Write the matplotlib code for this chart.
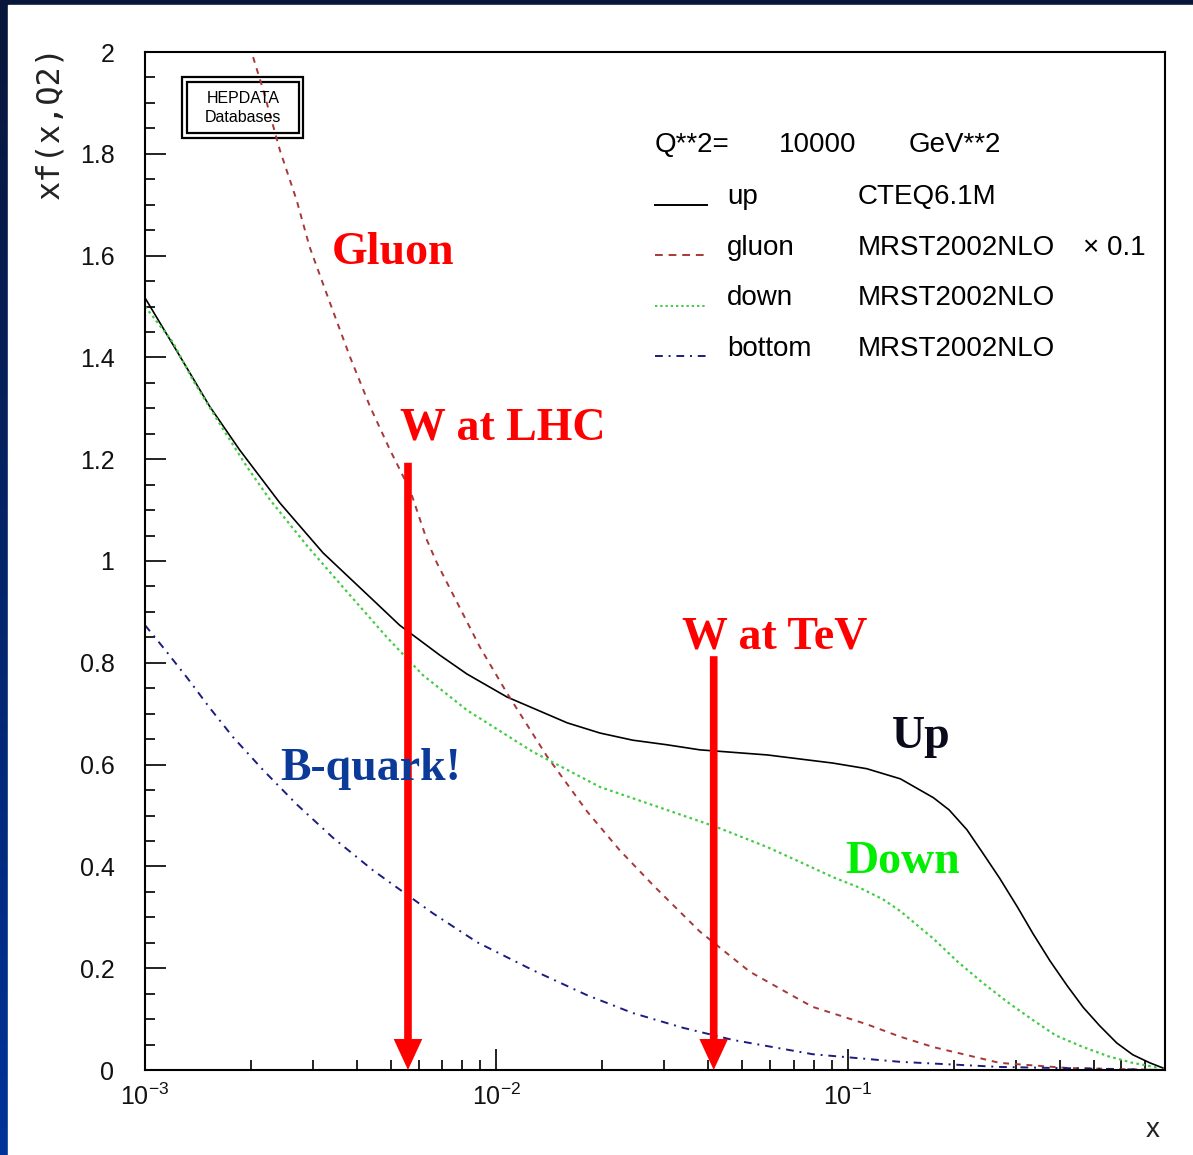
import matplotlib.pyplot as plt
import numpy as np
from matplotlib.patches import Rectangle
from matplotlib.colors import LinearSegmentedColormap
from matplotlib.ticker import LogLocator, MultipleLocator, FixedFormatter, FixedLocator

plt.rcParams['font.family'] = ['Liberation Sans', 'DejaVu Sans']
plt.rcParams['mathtext.fontset'] = 'custom'
plt.rcParams['mathtext.rm'] = 'Liberation Sans'
plt.rcParams['mathtext.it'] = 'Liberation Sans:italic'
plt.rcParams['mathtext.bf'] = 'Liberation Sans:bold'

# PDFs at Q^2 = 10000 GeV^2
up_x = [0.001, 0.00126, 0.00153, 0.00186, 0.00242, 0.00321, 0.00446, 0.0053, 0.0069,
        0.00824, 0.0107, 0.0159, 0.0197, 0.0244, 0.0305, 0.0379, 0.0589, 0.0906, 0.113,
        0.141, 0.175, 0.194, 0.218, 0.242, 0.270, 0.303, 0.336, 0.376, 0.420, 0.467,
        0.52, 0.582, 0.646, 0.723, 0.787]
up_y = [1.517, 1.401, 1.303, 1.218, 1.114, 1.016, 0.923, 0.874, 0.815,
        0.778, 0.733, 0.682, 0.662, 0.648, 0.639, 0.629, 0.619, 0.603, 0.592,
        0.572, 0.535, 0.511, 0.472, 0.426, 0.377, 0.321, 0.268, 0.214, 0.166, 0.123,
        0.087, 0.053, 0.030, 0.014, 0.004]

gluon_x = [0.00203, 0.00217, 0.00242, 0.00270, 0.00294, 0.00336, 0.00383, 0.00437, 0.00498,
           0.00568, 0.00634, 0.00677, 0.00897, 0.0107, 0.0139, 0.0181, 0.0224, 0.0280,
           0.0379, 0.0526, 0.0729, 0.0794, 0.113, 0.14, 0.175, 0.270, 0.420, 0.787]
gluon_y = [1.990, 1.925, 1.807, 1.709, 1.617, 1.507, 1.401, 1.303, 1.218,
           1.139, 1.041, 0.996, 0.831, 0.741, 0.617, 0.508, 0.432, 0.362,
           0.272, 0.193, 0.138, 0.124, 0.090, 0.066, 0.045, 0.014, 0.004, 0.0]

down_x = [0.001, 0.00120, 0.00137, 0.00163, 0.00195, 0.00227, 0.00289, 0.00359, 0.00488,
          0.00617, 0.00824, 0.0127, 0.0197, 0.0305, 0.0424, 0.0589, 0.0729, 0.0906,
          0.108, 0.126, 0.141, 0.175, 0.205, 0.242, 0.285, 0.336, 0.39, 0.467, 0.55,
          0.646, 0.772]
down_y = [1.500, 1.430, 1.355, 1.270, 1.185, 1.120, 1.030, 0.955, 0.850,
          0.776, 0.707, 0.625, 0.556, 0.511, 0.477, 0.438, 0.409, 0.379,
          0.358, 0.335, 0.312, 0.258, 0.213, 0.171, 0.133, 0.098, 0.068, 0.045, 0.027,
          0.014, 0.004]

bottom_x = [0.001, 0.00113, 0.00132, 0.00153, 0.00178, 0.00217, 0.00271, 0.00343, 0.00446,
            0.00542, 0.00659, 0.00881, 0.0127, 0.0181, 0.0244, 0.0339, 0.0471, 0.0794,
            0.141, 0.270, 0.787]
bottom_y = [0.874, 0.829, 0.770, 0.711, 0.654, 0.589, 0.521, 0.456, 0.392,
            0.350, 0.308, 0.251, 0.196, 0.147, 0.112, 0.083, 0.059, 0.031,
            0.016, 0.006, 0.0]

# W production x values marked by arrows (x, arrow top)
w_lhc = (0.0056, 1.193)
w_tev = (0.0415, 0.813)

y_ticks = [0, 0.2, 0.4, 0.6, 0.8, 1, 1.2, 1.4, 1.6, 1.8, 2]
y_labels = ["0", "0.2", "0.4", "0.6", "0.8", "1", "1.2", "1.4", "1.6", "1.8", "2"]
x_ticks = [1e-3, 1e-2, 1e-1]
x_labels = ["$10^{-3}$", "$10^{-2}$", "$10^{-1}$"]

legend_rows = [("up", "CTEQ6.1M", "-", "black"),
               ("gluon", "MRST2002NLO", (0, (4, 3)), "#a83838"),
               ("down", "MRST2002NLO", (0, (1.2, 1.5)), "#44cc44"),
               ("bottom", "MRST2002NLO", (0, (4, 3, 1, 3)), "#1c1c80")]

W, H = 1193, 1155
fig = plt.figure(figsize=(W / 100, H / 100), dpi=100)

# slide background: blue gradient frame, white panel
bg = fig.add_axes([0, 0, 1, 1])
grad = np.linspace(0, 1, 256).reshape(-1, 1)
bg.imshow(grad, aspect="auto", extent=[0, 1, 0, 1], origin="upper",
          cmap=LinearSegmentedColormap.from_list("s", ["#08163a", "#003399"]))
bg.add_patch(Rectangle((8 / W, 0), 1, 1 - 5 / H, color="white", zorder=2))
bg.set_axis_off()

ax = fig.add_axes([145 / W, 85 / H, 1020 / W, 1018 / H])
ax.set_xscale("log")
ax.set_xlim(1e-3, 0.798)
ax.set_ylim(0, 2)

ax.plot(up_x, up_y, color="black", lw=1.2, ls="-")
ax.plot(gluon_x, gluon_y, color="#a83838", lw=1.4, ls=(0, (3, 3)))
ax.plot(down_x, down_y, color="#44cc44", lw=1.6, ls=(0, (1.2, 1.5)))
ax.plot(bottom_x, bottom_y, color="#1c1c80", lw=1.4, ls=(0, (4, 3, 1, 3)))

for xa, ytop in (w_lhc, w_tev):
    ax.annotate("", xy=(xa, 0), xytext=(xa, ytop),
                arrowprops=dict(arrowstyle="-|>,head_length=1.3,head_width=0.6",
                                color="red", lw=5.5, shrinkA=0, shrinkB=0,
                                joinstyle="miter", capstyle="butt"))

# axes / ticks, ROOT style
for s in ax.spines.values():
    s.set_linewidth(1.5)
ax.yaxis.set_major_locator(FixedLocator(y_ticks))
ax.yaxis.set_major_formatter(FixedFormatter(y_labels))
ax.yaxis.set_minor_locator(MultipleLocator(0.05))
ax.xaxis.set_major_locator(FixedLocator(x_ticks))
ax.xaxis.set_major_formatter(FixedFormatter(x_labels))
ax.xaxis.set_minor_locator(LogLocator(base=10, subs=np.arange(2, 10), numticks=20))
ax.xaxis.set_minor_formatter(plt.NullFormatter())
ax.tick_params(which="both", direction="in", top=False, right=False, width=1.3, colors="#111111")
ax.tick_params(which="major", length=15)
ax.tick_params(which="minor", length=7)
ax.tick_params(axis="y", which="major", labelsize=18, pad=22)
ax.tick_params(axis="x", which="major", labelsize=18, pad=10)

fig.text(50 / W, 1 - 45 / H, "xf(x,Q2)", rotation=90, ha="center", va="top",
         fontsize=23, family="DejaVu Sans Mono", color="#222222")
fig.text(1153 / W, 1 - 1130 / H, "x", ha="center", va="center", fontsize=20, color="#222222")

# HEPDATA logo box
ax.add_patch(Rectangle((0.0363, 0.9155), 0.1186, 0.0599, transform=ax.transAxes,
                       fill=False, lw=1.6, ec="black"))
ax.add_patch(Rectangle((0.0412, 0.9204), 0.1098, 0.0501, transform=ax.transAxes,
                       fill=False, lw=1.6, ec="black"))
ax.text(0.0961, 0.9548, "HEPDATA", transform=ax.transAxes, ha="center", va="center", fontsize=11.5)
ax.text(0.0961, 0.9352, "Databases", transform=ax.transAxes, ha="center", va="center", fontsize=11.5)

# legend block
fs = 20
ax.text(0.5, 0.9087, "Q**2=", transform=ax.transAxes, ha="left", va="center", fontsize=fs)
ax.text(0.6216, 0.9087, "10000", transform=ax.transAxes, ha="left", va="center", fontsize=fs)
ax.text(0.749, 0.9087, "GeV**2", transform=ax.transAxes, ha="left", va="center", fontsize=fs)
for i, (name, pdf, ls, col) in enumerate(legend_rows):
    yy = 0.8576 - i * 0.0497
    ax.plot([0.5, 0.551], [yy - 0.0075, yy - 0.0075], transform=ax.transAxes,
            color=col, ls=ls, lw=1.4)
    ax.text(0.5706, yy, name, transform=ax.transAxes, ha="left", va="center", fontsize=fs)
    ax.text(0.699, yy, pdf, transform=ax.transAxes, ha="left", va="center", fontsize=fs)
ax.text(0.9196, 0.8075, "× 0.1", transform=ax.transAxes, ha="left", va="center", fontsize=fs)

# slide annotations
serif = dict(family="Liberation Serif", weight="bold", fontsize=33)
ax.text(0.1833, 0.7917, "Gluon", transform=ax.transAxes, color="red", **serif)
ax.text(0.25, 0.6189, "W at LHC", transform=ax.transAxes, color="red", **serif)
ax.text(0.5265, 0.4145, "W at TeV", transform=ax.transAxes, color="red", **serif)
ax.text(0.7324, 0.3163, "Up", transform=ax.transAxes, color="#0a0a1a", **serif)
ax.text(0.6863, 0.1935, "Down", transform=ax.transAxes, color="#00ee00", **serif)
ax.text(0.1324, 0.2849, "B-quark!", transform=ax.transAxes, color="#0b3a99", zorder=5, **serif)

fig.savefig("out.png", dpi=100)
